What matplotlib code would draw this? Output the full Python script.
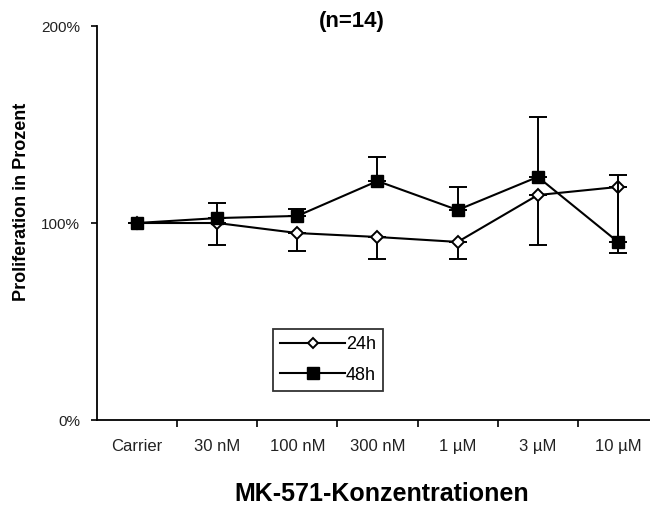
import matplotlib
matplotlib.use("Agg")
import matplotlib.pyplot as plt
from matplotlib.lines import Line2D
import numpy as np

plt.rcParams["font.family"] = ["Liberation Sans", "DejaVu Sans"]

categories = ["Carrier", "30 nM", "100 nM", "300 nM", "1 µM", "3 µM", "10 µM"]
prolif_24h = [100, 100, 94.9, 92.9, 90.4, 114.2, 118.3]
err_24h_lower = [0, 11.2, 9.1, 11.2, 8.7, 25.4, 33.5]
prolif_48h = [100, 102.5, 103.6, 121.3, 106.6, 123.4, 90.4]
err_48h_upper = [0, 7.7, 3.5, 12.2, 11.7, 30.4, 34.0]

x = np.arange(len(categories))

fig = plt.figure(figsize=(6.5, 5.08), dpi=100)
ax = fig.add_axes([0.1492, 0.1732, 0.8508, 0.7756])

# 24h: open diamonds, error bars pointing down
ax.errorbar(x, prolif_24h, yerr=[err_24h_lower, np.zeros(len(x))],
            fmt="-", color="black", lw=1.5, capsize=6.5, capthick=1.4,
            elinewidth=1.4, marker="D", markersize=6, mfc="white",
            mec="black", mew=1.4, zorder=3, clip_on=False)
# 48h: filled squares, error bars pointing up
ax.errorbar(x, prolif_48h, yerr=[np.zeros(len(x)), err_48h_upper],
            fmt="-", color="black", lw=1.5, capsize=6.5, capthick=1.4,
            elinewidth=1.4, marker="s", markersize=8.5, mfc="black",
            mec="black", zorder=4, clip_on=False)

ax.set_ylim(0, 200)
ax.set_xlim(-0.5, 6.40)
ax.set_yticks([0, 100, 200])
ax.set_yticklabels(["0%", "100%", "200%"], fontsize=11, color="#222222")
ax.set_xticks(x[:-1] + 0.5)
ax.set_xticklabels([])
for i, lab in enumerate(categories):
    ax.text(i, -0.066, lab, transform=ax.get_xaxis_transform(),
            ha="center", va="center", fontsize=12, color="#222222")
ax.tick_params(axis="x", direction="out", length=5, width=1.2)
ax.tick_params(axis="y", direction="out", length=4, width=1.2, pad=8)
for side in ["top", "right"]:
    ax.spines[side].set_visible(False)
for side in ["left", "bottom"]:
    ax.spines[side].set_linewidth(1.3)

fig.text(22 / 650, 1 - 202 / 508, "Proliferation in Prozent", rotation=90,
         ha="center", va="center", fontsize=13, fontweight="bold")
fig.text(382 / 650, 1 - 494 / 508, "MK-571-Konzentrationen", ha="center",
         va="center", fontsize=18, fontweight="bold")
fig.text(352 / 650, 1 - 21 / 508, "(n=14)", ha="center", va="center",
         fontsize=16, fontweight="bold")

handles = [
    Line2D([], [], color="black", lw=1.5, marker="D", markersize=5,
           mfc="white", mec="black", mew=1.4),
    Line2D([], [], color="black", lw=1.5, marker="s", markersize=8,
           mfc="black", mec="black"),
]
leg = fig.legend(handles, ["24h", "48h"], loc="upper left",
                 bbox_to_anchor=(273 / 650, 1 - 329 / 508), fontsize=13,
                 frameon=True, fancybox=False, edgecolor="black",
                 borderaxespad=0, handlelength=3.6, handletextpad=0.05,
                 borderpad=0.4, labelspacing=0.75)
leg.get_frame().set_linewidth(1.3)

fig.savefig("out.png", dpi=100)
